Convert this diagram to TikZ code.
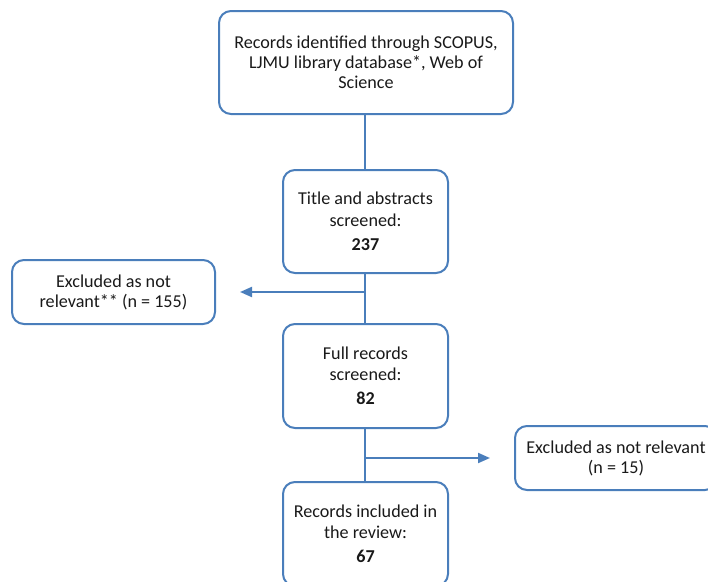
\documentclass[tikz,border=0pt]{standalone}
\usepackage{fontspec}
\setmainfont{Carlito}
\usetikzlibrary{arrows.meta}
\definecolor{boxblue}{RGB}{74,126,187}
\definecolor{txt}{RGB}{25,25,25}
\tikzset{
  flowbox/.style={draw=boxblue, line width=1.5pt, rounded corners=9pt, rectangle,
    inner sep=0pt, align=center, text=txt,
    font=\fontsize{13.6}{15}\selectfont},
  conn/.style={draw=boxblue, line width=1.5pt},
  arr/.style={conn, -{Triangle[length=9pt,width=7.5pt]}}
}
\begin{document}
\begin{tikzpicture}[x=0.75pt,y=-0.75pt]
\useasboundingbox (0,0) rectangle (708,582);
\clip (0,0) rectangle (708,582);
\node[flowbox, minimum width=220.5pt, minimum height=77.25pt] (top) at (366,62.5)
  {Records identified through SCOPUS,\\LJMU library database*, Web of\\Science};
\node[flowbox, minimum width=123.75pt, minimum height=77.25pt] (title) at (365.5,221.5)
  {Title and abstracts\\[1.5pt]screened:\\[3pt]\textbf{237}};
\node[flowbox, minimum width=152.25pt, minimum height=48pt] (ex1) at (113.5,292)
  {Excluded as not\\relevant** (n = 155)};
\node[flowbox, minimum width=123.75pt, minimum height=78pt] (full) at (365.5,376)
  {Full records\\[1pt]screened:\\[3pt]\textbf{82}};
\node[flowbox, minimum width=151.5pt, minimum height=48pt] (ex2) at (616,458)
  {Excluded as not relevant\\(n = 15)};
\node[flowbox, minimum width=123.75pt, minimum height=78pt] (incl) at (365.5,534)
  {Records included in\\[1pt]the review:\\[3pt]\textbf{67}};
\coordinate (j1) at (365,292);
\coordinate (a1) at (240,292);
\coordinate (j2) at (365,458);
\coordinate (a2) at (490,458);
\draw[conn] (top.south -| j1) -- (title.north -| j1);
\draw[conn] (title.south -| j1) -- (full.north -| j1);
\draw[conn] (full.south -| j1) -- (incl.north -| j1);
\draw[arr] (j1) -- (a1);
\draw[arr] (j2) -- (a2);
\end{tikzpicture}
\end{document}
